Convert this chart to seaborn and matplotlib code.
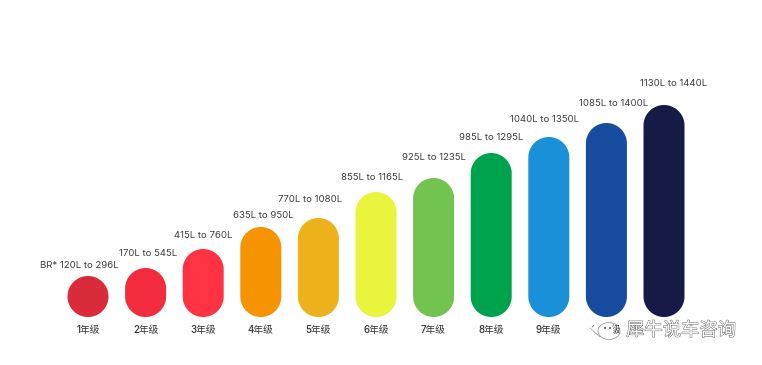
import matplotlib
matplotlib.use("Agg")
import numpy as np
import pandas as pd
import seaborn as sns
import matplotlib.pyplot as plt
import matplotlib.patheffects as pe
from matplotlib.lines import Line2D
from matplotlib.patches import Ellipse, PathPatch
from matplotlib.path import Path
from matplotlib.transforms import IdentityTransform

# data, bar heights are read off the picture (the bars are not to scale with the litres)
grades = ["1年级", "2年级", "3年级", "4年级", "5年级", "6年级", "7年级", "8年级", "9年级", "10年级", "11年级"]
bar_heights = [41, 49, 68, 90, 99, 125, 139, 164, 180, 194, 212]
range_labels = ["BR* 120L to 296L", "170L to 545L", "415L to 760L", "635L to 950L", "770L to 1080L",
                "855L to 1165L", "925L to 1235L", "985L to 1295L", "1040L to 1350L", "1085L to 1400L",
                "1130L to 1440L"]
colors = ["#D92B3A", "#F22C3D", "#FF3344", "#F59300", "#EDB11C", "#E8F53C",
          "#72C34F", "#00A34D", "#1A90D8", "#174CA0", "#171A45"]

# label nudges in px, the labels do not sit exactly over the bars
label_dx = [-9, 2, 0, 3, -8, -4, 0, 0, -4, 7, 10]
label_dy = [11, 14, 13, 12, 19, 14, 20, 15, 18, 19, 22]

sns.set_theme(style="white")
plt.rcParams["font.family"] = ["Inter", "Noto Sans CJK SC", "DejaVu Sans"]


def pill_path(box):
    # half circles top and bottom, in pixels
    r = box.width / 2
    cx = (box.x0 + box.x1) / 2
    t = np.linspace(0, np.pi, 80)
    top = np.column_stack([cx + r * np.cos(t), box.y1 - r + r * np.sin(t)])
    bottom = np.column_stack([cx - r * np.cos(t), box.y0 + r - r * np.sin(t)])
    return Path(np.vstack([top, bottom, top[:1]]), closed=True)


def px(x, y):
    return x / 762, 1 - y / 365


df = pd.DataFrame({"grade": grades, "height": bar_heights})

fig = plt.figure(figsize=(7.62, 3.65), dpi=100)
ax = fig.add_axes([0, 48 / 365, 1, 317 / 365])

sns.barplot(data=df, x="grade", y="height", hue="grade", palette=colors, legend=False,
            width=41 / 57.6, saturation=1, ax=ax)

ax.set_xlim(-88 / 57.6, (762 - 88) / 57.6)
ax.set_ylim(0, 317)
ax.set_xlabel("")
ax.set_ylabel("")
ax.set_yticks([])
ax.tick_params(axis="x", length=0, pad=6, labelsize=7, labelcolor="#333333")
for lab in ax.get_xticklabels():
    lab.set_fontweight("medium")
sns.despine(ax=ax, left=True, bottom=True)

# swap each seaborn bar for a pill of the same box and colour
fig.canvas.draw()
bars = list(ax.patches)
for bar in bars:
    pill = PathPatch(pill_path(bar.get_window_extent()), facecolor=bar.get_facecolor(),
                     edgecolor="none", transform=IdentityTransform())
    ax.add_artist(pill)
    bar.set_visible(False)

for i, bar in enumerate(bars):
    ax.annotate(range_labels[i], (bar.get_x() + bar.get_width() / 2, bar.get_height()),
                xytext=(label_dx[i] * 0.72, label_dy[i] * 0.72), textcoords="offset points",
                ha="center", va="center", fontsize=6.9, color="#3A3A3A")

# watermark over the 10年级 and 11年级 labels, white halo hides them like in the original
fig.add_artist(Ellipse(px(603, 330), 21 / 762, 18 / 365, transform=fig.transFigure,
                       facecolor="white", edgecolor="none"))
fig.add_artist(Ellipse(px(609, 331), 22 / 762, 17 / 365, transform=fig.transFigure,
                       facecolor="none", edgecolor="#888888", linewidth=0.5))
fig.add_artist(Line2D([590 / 762, 600 / 762], [px(0, 328)[1], px(0, 337)[1]], color="#999999", linewidth=0.5))
for eye_x in (605, 610):
    fig.add_artist(Ellipse(px(eye_x, 328), 2 / 762, 2 / 365, transform=fig.transFigure,
                           facecolor="#555555", edgecolor="none"))
wx, wy = px(626, 331)
fig.text(wx, wy, "犀牛说车咨询", fontsize=13.2, color="white", ha="left", va="center",
         path_effects=[pe.Stroke(linewidth=4, foreground="white"),
                       pe.Stroke(linewidth=0.7, foreground="#666666"),
                       pe.Normal()])

fig.savefig("out.png", dpi=100)
